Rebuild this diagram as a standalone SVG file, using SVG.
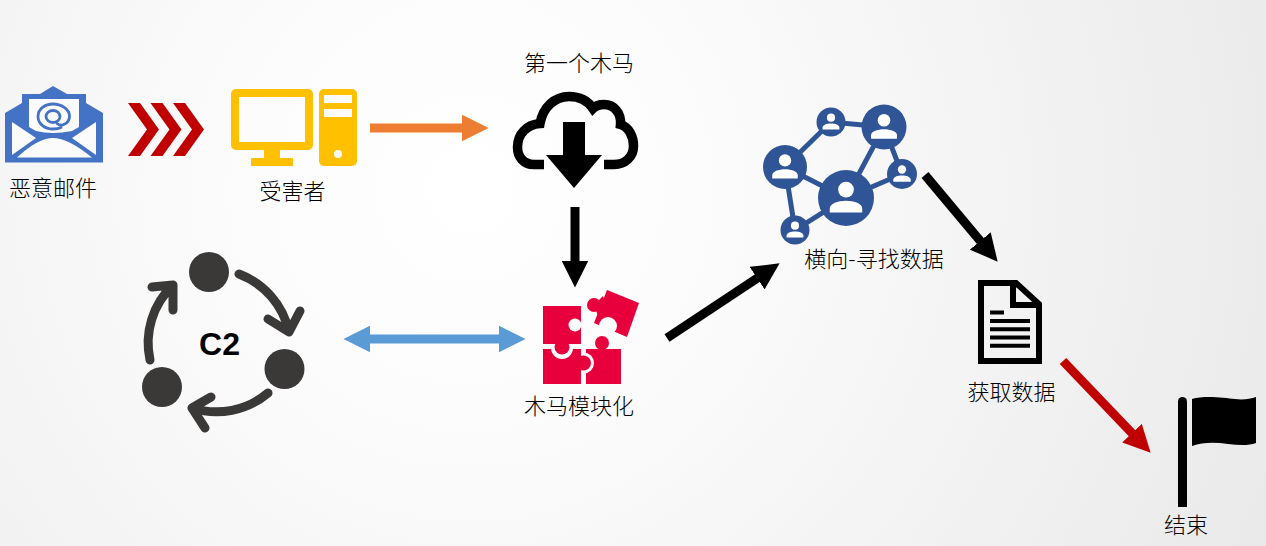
<svg xmlns="http://www.w3.org/2000/svg" xmlns:xlink="http://www.w3.org/1999/xlink" width="1266" height="546" viewBox="0 0 1266 546">
<style>
.lbl{font-family:"Noto Sans CJK SC","Noto Sans",sans-serif;font-size:22px;fill:#000;text-anchor:middle;font-weight:300}
.c2a{fill:none;stroke:#3b3838;stroke-width:9;stroke-linecap:round;stroke-linejoin:round}
.dk{fill:#3b3838}
.net{fill:#2f5597}
.netl{stroke:#2f5597;stroke-width:5;fill:none}
.pz{fill:#e8003c}
.gap{fill:#fbfbfb}
.conn{fill:none;stroke-width:9}
</style>
<defs>
<radialGradient id="bg" gradientUnits="userSpaceOnUse" cx="470" cy="190" r="880">
<stop offset="0" stop-color="#ffffff"/><stop offset="0.3" stop-color="#fbfbfb"/><stop offset="1" stop-color="#e9e9e9"/>
</radialGradient>
<marker id="hO" viewBox="0 0 3 3" refX="0.05" refY="1.5" markerWidth="3" markerHeight="3" orient="auto"><path d="M0 0L3 1.5L0 3Z" fill="#ed7d31"/></marker>
<marker id="hK" viewBox="0 0 3 3" refX="0.05" refY="1.5" markerWidth="3" markerHeight="3" orient="auto"><path d="M0 0L3 1.5L0 3Z" fill="#000"/></marker>
<marker id="hR" viewBox="0 0 3 3" refX="0.05" refY="1.5" markerWidth="3" markerHeight="3" orient="auto"><path d="M0 0L3 1.5L0 3Z" fill="#c00000"/></marker>
<marker id="hB" viewBox="0 0 3 3" refX="0.05" refY="1.5" markerWidth="3" markerHeight="3" orient="auto-start-reverse"><path d="M0 0L3 1.5L0 3Z" fill="#5b9bd5"/></marker>
<g id="person"><circle cx="0" cy="-0.3" r="0.28" fill="#fff"/><path d="M-0.58 0.52V0.38C-0.58 0.2-0.3 0.1 0 0.1S0.58 0.2 0.58 0.38V0.52Z" fill="#fff"/></g>
</defs>
<rect width="1266" height="546" fill="url(#bg)"/>

<g id="email">
<path d="M5 113L22 103V94H40L53 86L67 94H86V103L103 113V162.500H5Z" fill="#4472c4"/>
<path d="M29 99H79V127L72 131Q62 133 53 133Q44 133 36 131L29 127Z" fill="#fbfbfb"/>
<path d="M12 122L36 138L12 155ZM96 122L72 138L96 155ZM17 157.500Q38 138 53 138Q68 138 92 157.500Z" fill="#fbfbfb"/>
<path d="M57 123.500C61 127 69.500 124 69.500 116C69.500 109 61 104 53 104C45 104 38 109 38 116.500C38 124 45 129 53 129C56 129 59 128.500 61 127.500" fill="none" stroke="#4472c4" stroke-width="2.800" stroke-linecap="round"/>
<ellipse cx="53" cy="116.500" rx="7" ry="6" fill="none" stroke="#4472c4" stroke-width="2.800"/>
<text class="lbl" x="53" y="196">恶意邮件</text>
</g>

<g id="chevrons" fill="#c00000">
<path d="M128 103H140L159 129.500L140 156H128L147 129.500Z"/>
<path d="M150.500 103H162.500L181.500 129.500L162.500 156H150.500L169.500 129.500Z"/>
<path d="M173 103H185L204 129.500L185 156H173L192 129.500Z"/>
</g>

<g id="victim">
<path fill-rule="evenodd" fill="#ffc000" d="M236 89H308A5 5 0 0 1 313 94V145A5 5 0 0 1 308 150H280V158H293V166H251V158H264V150H236A5 5 0 0 1 231 145V94A5 5 0 0 1 236 89ZM239 97V142H305V97Z"/>
<rect x="319" y="89" width="38" height="77" rx="5" fill="#ffc000"/>
<rect x="324" y="95" width="28" height="8" fill="#fbfbfb"/>
<rect x="324" y="109" width="28" height="8" fill="#fbfbfb"/>
<circle cx="338" cy="154" r="4" fill="#fbfbfb"/>
<text class="lbl" x="292.500" y="199">受害者</text>
</g>

<g id="trojan">
<text class="lbl" x="579" y="71">第一个木马</text>
<path d="M544 164.500H534C523.500 164.500 517.500 157 517.500 147C517.500 134 527 124.500 540 123.500C543 107 555 96.500 569 96.500C580 96.500 588 101 593 108.500C596 105.500 600 104.500 604 104.500C614 104.500 621.500 113 620.500 124.500C628.500 127 633.500 136 633.500 146C633.500 157 625 164.500 614 164.500H604" fill="none" stroke="#000" stroke-width="9.500"/>
<path d="M563 122H585V155H602L574 188L546 155H563Z" fill="#000"/>
</g>

<g id="c2">
<circle class="dk" cx="209" cy="272" r="20"/>
<circle class="dk" cx="284.500" cy="369" r="20"/>
<circle class="dk" cx="162" cy="387" r="20"/>
<path class="c2a" d="M239 274A80 80 0 0 1 289 332M268 319L289 332L300 311"/>
<path class="c2a" d="M268 393A80 80 0 0 1 192 408M211 397L192 408L205 428"/>
<path class="c2a" d="M150 360A80 80 0 0 1 173 285M152 287L173 285L173 310"/>
<text x="219.500" y="355" font-family="Liberation Sans,Arial,sans-serif" font-size="32" font-weight="700" text-anchor="middle" fill="#000">C2</text>
</g>

<g id="modules">
<rect class="pz" x="586" y="349" width="35" height="35"/>
<circle class="gap" cx="583.500" cy="363" r="10.500"/>
<rect class="pz" x="543" y="349" width="38" height="35"/>
<circle class="gap" cx="562" cy="348" r="11"/>
<rect class="pz" x="543" y="306" width="38" height="38"/>
<circle class="pz" cx="562" cy="347" r="7.500"/>
<circle class="pz" cx="583.500" cy="363" r="7.500"/>
<circle class="gap" cx="575" cy="325" r="6.500"/>
<circle class="pz" cx="602" cy="343" r="7"/>
<path class="pz" d="M607 290L639 303L627 337L594 323Z"/>
<circle class="pz" cx="594" cy="305" r="7"/>
<path class="pz" d="M594 305L603 296L606 306L598 316Z"/>
<circle class="gap" cx="608" cy="326" r="9"/>
<text class="lbl" x="579" y="414">木马模块化</text>
</g>

<g id="lateral">
<path class="netl" d="M785 167L831 122L884 127L846 198L785 167L795 230L846 198L902 174L884 127"/>
<circle class="net" cx="785" cy="167" r="22"/><use xlink:href="#person" href="#person" transform="translate(785 167) scale(22)"/>
<circle class="net" cx="831" cy="122" r="14.500"/><use xlink:href="#person" href="#person" transform="translate(831 122) scale(14.500)"/>
<circle class="net" cx="884" cy="127" r="22.500"/><use xlink:href="#person" href="#person" transform="translate(884 127) scale(22.500)"/>
<circle class="net" cx="902" cy="174" r="15"/><use xlink:href="#person" href="#person" transform="translate(902 174) scale(15)"/>
<circle class="net" cx="846" cy="198" r="28"/><use xlink:href="#person" href="#person" transform="translate(846 198) scale(28)"/>
<circle class="net" cx="795" cy="230" r="14.500"/><use xlink:href="#person" href="#person" transform="translate(795 230) scale(14.500)"/>
<text class="lbl" x="874" y="267">横向-寻找数据</text>
</g>

<g id="document">
<path d="M981 283H1016L1039 304V361H981Z" fill="none" stroke="#000" stroke-width="6"/>
<path d="M1013 283V305H1039" fill="none" stroke="#000" stroke-width="6"/>
<path d="M990 312.500H1004M990 321H1030M990 329.300H1030M990 337.400H1030M990 345.700H1030" fill="none" stroke="#000" stroke-width="4"/>
<text class="lbl" x="1011.500" y="400">获取数据</text>
</g>

<g id="finish">
<path d="M1178 401.500A4.500 4.500 0 0 1 1187 401.500V507H1178Z" fill="#000"/>
<path d="M1192 399C1205 395 1225 398 1235 399C1243 400 1250 399 1256 397V443C1248 446 1238 445 1228 444C1215 442 1203 442 1192 446Z" fill="#000"/>
<text class="lbl" x="1186" y="533">结束</text>
</g>

<g id="connectors">
<line class="conn" x1="370" y1="128" x2="462" y2="128" stroke="#ed7d31" marker-end="url(#hO)"/>
<line class="conn" x1="575" y1="207" x2="575" y2="261" stroke="#000" marker-end="url(#hK)"/>
<line class="conn" x1="370" y1="339" x2="499" y2="339" stroke="#5b9bd5" marker-start="url(#hB)" marker-end="url(#hB)"/>
<line class="conn" x1="667" y1="338" x2="757.500" y2="277.900" stroke="#000" marker-end="url(#hK)"/>
<line class="conn" x1="925" y1="175" x2="980.600" y2="241.300" stroke="#000" marker-end="url(#hK)"/>
<line class="conn" x1="1063" y1="361" x2="1132.300" y2="433.500" stroke="#c00000" marker-end="url(#hR)"/>
</g>
</svg>
